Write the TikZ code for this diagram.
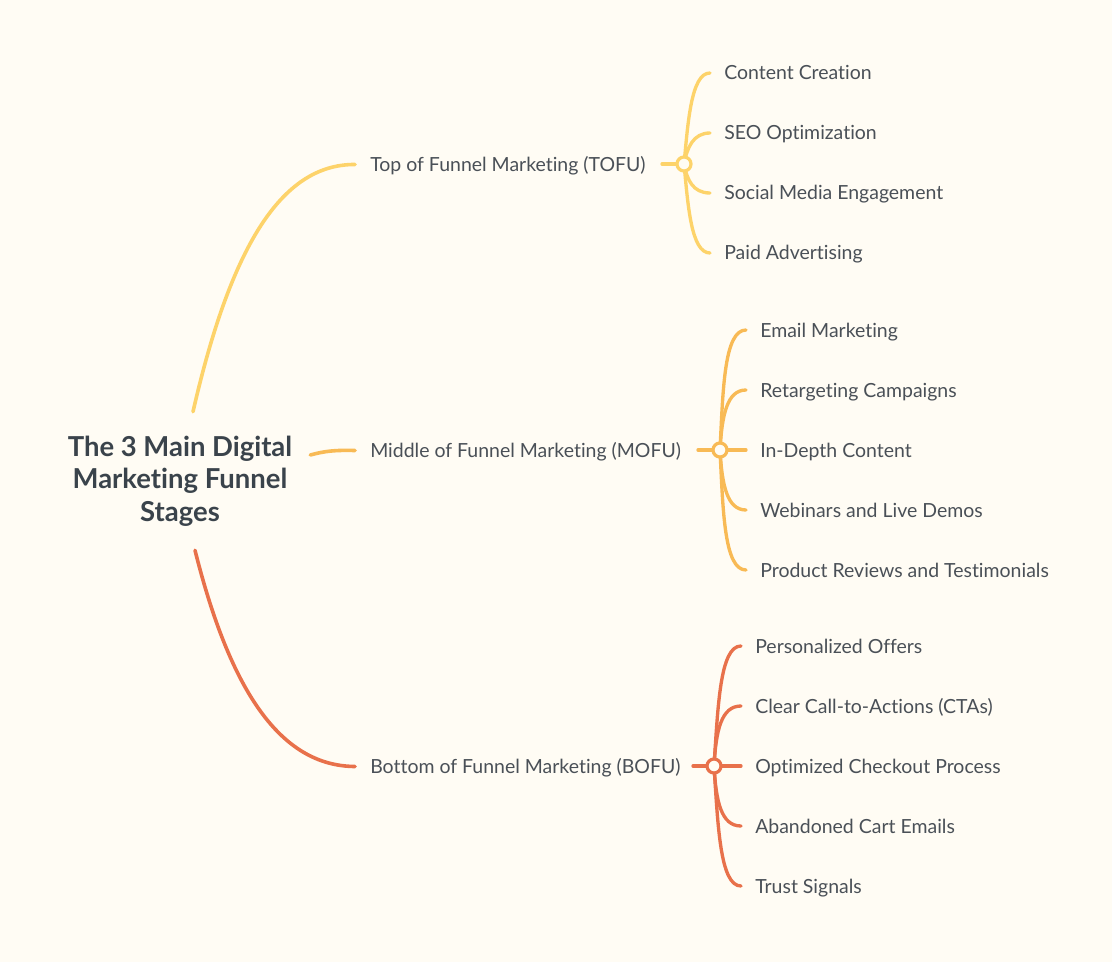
\documentclass[tikz,border=0pt]{standalone}
\usepackage{fontspec}
\setmainfont{Lato}[Ligatures={NoCommon}]
\definecolor{bgc}{HTML}{FFFCF4}
\definecolor{tofuc}{HTML}{FDD36A}
\definecolor{mofuc}{HTML}{F8BA55}
\definecolor{bofuc}{HTML}{E8714B}
\definecolor{txtc}{HTML}{4A5057}
\definecolor{titlec}{HTML}{3A434B}
\pgfdeclarelayer{bg}
\pgfdeclarelayer{lines}
\pgfsetlayers{bg,lines,main}
\begin{document}
\begin{tikzpicture}[x=0.75pt,y=-0.75pt,
  lbl/.style={anchor=west, inner sep=0pt, text=txtc, font=\fontsize{14.6}{17}\selectfont, text height=10.5pt, text depth=0pt},
  link/.style={line width=2.7pt, line cap=round},
  twig/.style={line width=2.5pt, line cap=round},
  hub/.style={circle, fill=bgc, line width=2.4pt, minimum size=10.5pt, inner sep=0pt, draw=#1}]

\begin{pgfonlayer}{bg}
\fill[bgc] (0,0) rectangle (1112,962);
\end{pgfonlayer}
\useasboundingbox (0,0) rectangle (1112,962);

% central topic
\node[text=titlec, font=\bfseries\fontsize{20.6}{24.4}\selectfont, align=center,
      minimum width=195pt, minimum height=105pt, inner sep=0pt] (title) at (180,481)
      {The 3 Main Digital\\Marketing Funnel\\Stages};

% main topics
\node[lbl] (tofu) at (370,164.5) {Top of Funnel Marketing (TOFU)};
\node[lbl] (mofu) at (370,450.5) {Middle of Funnel Marketing (MOFU)};
\node[lbl] (bofu) at (370,766.5) {Bottom of Funnel Marketing (BOFU)};

% hubs
\node[hub=tofuc] (th) at (684,164) {};
\node[hub=mofuc] (mh) at (720,450) {};
\node[hub=bofuc] (bh) at (714,766) {};

% subtopics
\node[lbl] (t1) at (724,73)  {Content Creation};
\node[lbl] (t2) at (724,133) {SEO Optimization};
\node[lbl] (t3) at (724,193) {Social Media Engagement};
\node[lbl] (t4) at (724,253) {Paid Advertising};

\node[lbl] (m1) at (760,330) {Email Marketing};
\node[lbl] (m2) at (760,390) {Retargeting Campaigns};
\node[lbl] (m3) at (760,450) {In-Depth Content};
\node[lbl] (m4) at (760,510) {Webinars and Live Demos};
\node[lbl] (m5) at (760,570) {Product Reviews and Testimonials};

\node[lbl] (b1) at (755,646) {Personalized Offers};
\node[lbl] (b2) at (755,706) {Clear Call-to-Actions (CTAs)};
\node[lbl] (b3) at (755,766) {Optimized Checkout Process};
\node[lbl] (b4) at (755,826) {Abandoned Cart Emails};
\node[lbl] (b5) at (755,886) {Trust Signals};

\begin{pgfonlayer}{lines}
% central to main topics
\draw[link, tofuc] ([shift={(13,1)}]title.north) .. controls (230,250) and (280,164) .. ([shift={(-15,0)}]tofu.west);
\draw[link, mofuc] ([shift={(0,-26)}]title.east) .. controls (325,451) and (335,450) .. ([shift={(-15,0)}]mofu.west);
\draw[link, bofuc] ([shift={(15,-1)}]title.south) .. controls (230,690) and (280,766) .. ([shift={(-15,0)}]bofu.west);

% TOFU branch
\draw[twig, tofuc] ([shift={(-22,0)}]th.center) -- (th.center);
\draw[twig, tofuc] (th.center) .. controls (688,123) and (691,73) .. ([shift={(-14,0)}]t1.west);
\draw[twig, tofuc] (th.center) .. controls (687,148) and (693,133) .. ([shift={(-14,0)}]t2.west);
\draw[twig, tofuc] (th.center) .. controls (687,180) and (693,193) .. ([shift={(-14,0)}]t3.west);
\draw[twig, tofuc] (th.center) .. controls (688,205) and (691,253) .. ([shift={(-14,0)}]t4.west);

% MOFU branch
\draw[twig, mofuc] ([shift={(-22,0)}]mh.center) -- (mh.center);
\draw[twig, mofuc] (mh.center) .. controls (723,390) and (724,330) .. ([shift={(-14,0)}]m1.west);
\draw[twig, mofuc] (mh.center) .. controls (722,415) and (727,390) .. ([shift={(-14,0)}]m2.west);
\draw[twig, mofuc] (mh.center) -- ([shift={(-14,0)}]m3.west);
\draw[twig, mofuc] (mh.center) .. controls (722,485) and (727,510) .. ([shift={(-14,0)}]m4.west);
\draw[twig, mofuc] (mh.center) .. controls (723,510) and (724,570) .. ([shift={(-14,0)}]m5.west);

% BOFU branch
\draw[twig, bofuc] ([shift={(-21,0)}]bh.center) -- (bh.center);
\draw[twig, bofuc] (bh.center) .. controls (718,706) and (720,646) .. ([shift={(-14,0)}]b1.west);
\draw[twig, bofuc] (bh.center) .. controls (716,731) and (721,706) .. ([shift={(-14,0)}]b2.west);
\draw[twig, bofuc] (bh.center) -- ([shift={(-14,0)}]b3.west);
\draw[twig, bofuc] (bh.center) .. controls (716,801) and (721,826) .. ([shift={(-14,0)}]b4.west);
\draw[twig, bofuc] (bh.center) .. controls (718,826) and (720,886) .. ([shift={(-14,0)}]b5.west);
\end{pgfonlayer}
\end{tikzpicture}
\end{document}
